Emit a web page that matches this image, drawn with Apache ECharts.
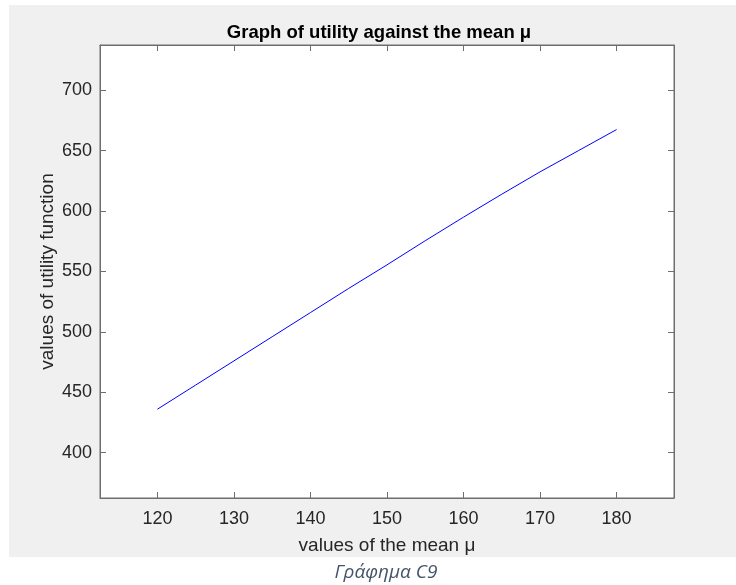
<!DOCTYPE html>
<html>
<head>
<meta charset="utf-8">
<script src="https://cdn.jsdelivr.net/npm/echarts@6/dist/echarts.min.js"></script>
<style>
html,body{margin:0;padding:0;background:#ffffff;}
#chart{width:736px;height:585px;}
</style>
</head>
<body>
<div id="chart"></div>
<script>
const meanValues = [120, 125, 130, 135, 140, 145, 150, 155, 160, 165, 170, 175, 180];
const utilityValues = [436, 456, 476, 496, 516, 536, 555.5, 575.5, 595, 614, 632.5, 650, 667.5];
const xTicks = [120, 130, 140, 150, 160, 170, 180];
const yTicks = [400, 450, 500, 550, 600, 650, 700];

const titleText = 'Graph of utility against the mean \u03bc';
const xName = 'values of the mean \u03bc';
const yName = 'values of utility function';
const captionText = '\u0393\u03c1\u03ac\u03c6\u03b7\u03bc\u03b1 C9';

const points = meanValues.map((m, i) => [m, utilityValues[i]]);

const chart = echarts.init(document.getElementById('chart'), null, {renderer: 'canvas'});
const axisColor = '#6e6e6e';
const textColor = '#262626';
const font = 'Liberation Sans, Arial, Helvetica, sans-serif';

function xLab(v){ return xTicks.indexOf(v) >= 0 ? String(v) : ''; }
function yLab(v){ return yTicks.indexOf(v) >= 0 ? String(v) : ''; }

const option = {
  animation: false,
  backgroundColor: '#ffffff',
  graphic: [
    {type: 'rect', z: -10, silent: true, shape: {x: 9, y: 5, width: 727, height: 552}, style: {fill: '#f0f0f0'}},
    {type: 'text', x: 386, y: 573, style: {text: captionText, fill: '#44546A', font: 'italic 19px "Open Sans", "Noto Sans", sans-serif', textAlign: 'center', textVerticalAlign: 'middle'}}
  ],
  title: {
    text: titleText,
    left: 374,
    top: 18,
    textAlign: 'center',
    textStyle: {fontFamily: font, fontWeight: 'bold', fontSize: 18.5, color: '#000000'}
  },
  grid: {
    left: 100, top: 45, width: 574, height: 453,
    show: true, backgroundColor: '#ffffff', borderColor: axisColor, borderWidth: 1
  },
  xAxis: [
    {
      type: 'value', min: 112.5, max: 187.5, interval: 2.5, position: 'bottom',
      name: xName, nameLocation: 'middle', nameGap: 38, nameMoveOverlap: false,
      nameTextStyle: {fontFamily: font, fontSize: 19, color: textColor},
      axisLine: {show: true, onZero: false, lineStyle: {color: axisColor, width: 1}},
      axisTick: {show: true, inside: true, length: 6, lineStyle: {color: axisColor},
        customValues: xTicks},
      axisLabel: {show: true, margin: 12, fontFamily: font, fontSize: 18, color: textColor,
        customValues: xTicks, formatter: xLab},
      splitLine: {show: false}
    },
    {
      type: 'value', min: 112.5, max: 187.5, interval: 2.5, position: 'top',
      axisLine: {show: true, onZero: false, lineStyle: {color: axisColor, width: 1}},
      axisTick: {show: true, inside: true, length: 6, lineStyle: {color: axisColor}, customValues: xTicks},
      axisLabel: {show: false},
      splitLine: {show: false}
    }
  ],
  yAxis: [
    {
      type: 'value', min: 362.5, max: 737.5, interval: 12.5, position: 'left',
      name: yName, nameLocation: 'middle', nameGap: 43, nameMoveOverlap: false,
      nameTextStyle: {fontFamily: font, fontSize: 19, color: textColor},
      axisLine: {show: true, onZero: false, lineStyle: {color: axisColor, width: 1}},
      axisTick: {show: true, inside: true, length: 6, lineStyle: {color: axisColor}, customValues: yTicks},
      axisLabel: {show: true, margin: 8, fontFamily: font, fontSize: 18, color: textColor,
        customValues: yTicks, formatter: yLab},
      splitLine: {show: false}
    },
    {
      type: 'value', min: 362.5, max: 737.5, interval: 12.5, position: 'right',
      axisLine: {show: true, onZero: false, lineStyle: {color: axisColor, width: 1}},
      axisTick: {show: true, inside: true, length: 6, lineStyle: {color: axisColor}, customValues: yTicks},
      axisLabel: {show: false},
      splitLine: {show: false}
    }
  ],
  series: [
    {
      type: 'line', xAxisIndex: 0, yAxisIndex: 0,
      data: points, showSymbol: false, symbol: 'none',
      lineStyle: {color: '#0000ff', width: 1},
      silent: true
    }
  ]
};
chart.setOption(option);
</script>
</body>
</html>
